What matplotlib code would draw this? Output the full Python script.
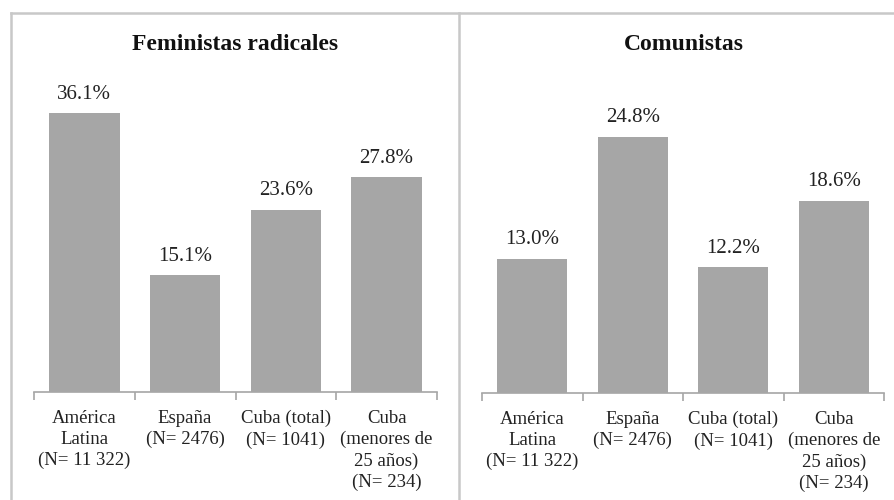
import matplotlib
matplotlib.use("Agg")
import matplotlib.pyplot as plt
from matplotlib.lines import Line2D

categories = [
    "América\nLatina\n(N= 11 322)",
    "España\n(N= 2476)",
    "Cuba (total)\n(N= 1041)",
    "Cuba\n(menores de\n25 años)\n(N= 234)",
]
feministas = [36.1, 15.1, 23.6, 27.8]
comunistas = [13.0, 24.8, 12.2, 18.6]

W, H = 895, 500
plt.rcParams["font.family"] = ["Liberation Serif", "DejaVu Serif"]

fig = plt.figure(figsize=(W / 100, H / 100), dpi=100)

BAR = "#a6a6a6"
AXIS = "#a6a6a6"
FRAME = "#c8c8c8"


def px_axes(x0, x1, y_bottom, y_top):
    return fig.add_axes([x0 / W, 1 - y_bottom / H, (x1 - x0) / W, (y_bottom - y_top) / H])


def panel(ax, values, title, ymax, title_x):
    x = range(len(values))
    ax.bar(x, values, width=0.7, color=BAR)
    for xi, v in zip(x, values):
        ax.text(xi, v + ymax * 0.03, f"{v:.1f}%", ha="center", va="bottom",
                fontsize=15, color="#222222")
    ax.set_xlim(-0.5, len(values) - 0.5)
    ax.set_ylim(0, ymax)
    for s in ["top", "right", "left"]:
        ax.spines[s].set_visible(False)
    ax.spines["bottom"].set_color(AXIS)
    ax.spines["bottom"].set_linewidth(1.2)
    ax.set_yticks([])
    ax.set_xticks(list(x))
    ax.set_xticklabels(categories, fontsize=13.5, linespacing=1.3, color="#222222")
    ax.tick_params(axis="x", which="major", length=0, pad=13)
    ax.set_xticks([i - 0.5 for i in range(len(values) + 1)], minor=True)
    ax.tick_params(axis="x", which="minor", length=6, width=1.2, color=AXIS, direction="out")
    fig.text(title_x / W, 1 - 44 / H, title, ha="center", va="center",
             fontsize=17, fontweight="bold", color="#111111")


ax1 = px_axes(34, 437, 392, 83)
panel(ax1, feministas, "Feministas radicales", 40, 235)
ax2 = px_axes(482, 884, 393, 83)
panel(ax2, comunistas, "Comunistas", 30, 684)

# panel frames
for xs, ys in [([11 / W, 1.01], [1 - 13 / H] * 2),
               ([11 / W] * 2, [1 - 13 / H, -0.01]),
               ([459 / W] * 2, [1 - 13 / H, -0.01])]:
    fig.add_artist(Line2D(xs, ys, color=FRAME, linewidth=1.8, transform=fig.transFigure))

fig.savefig("out.png", dpi=100, facecolor="white")
